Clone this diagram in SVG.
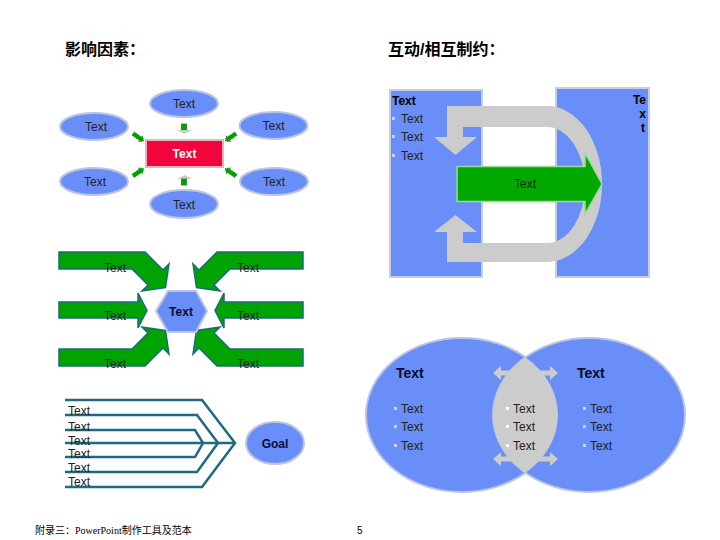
<svg xmlns="http://www.w3.org/2000/svg" width="720" height="540" viewBox="0 0 720 540">
<style>
.t{font-family:"Liberation Sans",Arial,sans-serif;font-size:12px;fill:#222}
.tb{font-family:"Liberation Sans",Arial,sans-serif;font-size:12px;font-weight:bold;fill:#000}
.h{font-family:"Liberation Sans","Noto Sans CJK SC",sans-serif;font-size:16px;font-weight:bold;fill:#000}
.ell{fill:#6A8EF7;stroke:#BAC4E4;stroke-width:2}
.blue{fill:#6A8EF7;stroke:#C4CCE8;stroke-width:2}
.ga{fill:#00A300;stroke:#1A6A7A;stroke-width:1.5}
.ln{fill:none;stroke:#1F6A80;stroke-width:2.5}
.gray{fill:#CCCCCC}
.sg{fill:#00A000;stroke:#138A13;stroke-width:0.8}
.bl{fill:#C8D0F2}
.bw{fill:#FFFFFF}
</style>

<!-- titles -->
<text class="h" x="65" y="55">影响因素：</text>
<text class="h" x="388" y="55">互动/相互制约：</text>

<!-- influence factors -->
<g id="factors">
  <g id="f-top"><ellipse class="ell" cx="184" cy="103.5" rx="34" ry="13.5"/><text class="t" x="184" y="108" text-anchor="middle">Text</text></g>
  <g id="f-left-top"><ellipse class="ell" cx="94" cy="126.5" rx="34" ry="13.5"/><text class="t" x="96" y="131" text-anchor="middle">Text</text></g>
  <g id="f-right-top"><ellipse class="ell" cx="273.5" cy="125.5" rx="34" ry="13.5"/><text class="t" x="273.5" y="130" text-anchor="middle">Text</text></g>
  <g id="f-left-bot"><ellipse class="ell" cx="94" cy="181.5" rx="34" ry="13.5"/><text class="t" x="95" y="186" text-anchor="middle">Text</text></g>
  <g id="f-right-bot"><ellipse class="ell" cx="274" cy="181.5" rx="34" ry="13.5"/><text class="t" x="274" y="186" text-anchor="middle">Text</text></g>
  <g id="f-bottom"><ellipse class="ell" cx="184" cy="204" rx="34" ry="14"/><text class="t" x="184" y="208.5" text-anchor="middle">Text</text></g>
  <g id="f-center"><rect x="146" y="140" width="77" height="27" fill="#F2043C" stroke="#E6B4BE" stroke-width="2"/><text class="tb" x="184.5" y="158" text-anchor="middle" style="fill:#fff">Text</text></g>
</g>
<g id="factor-arrows">
  <rect class="sg" x="181.5" y="124" width="5" height="6"/>
  <polygon class="gray" points="177,130 192,130 184.5,134"/>
  <polygon class="gray" points="177,179 192,179 184.5,175"/>
  <rect class="sg" x="181.5" y="179" width="5" height="6"/>
  <g transform="translate(138,137) rotate(35)"><polygon class="sg" points="-6,-2 3,-2 3,-3.5 7,0 3,3.5 3,2 -6,2" stroke-dasharray="1.5 1"/></g>
  <g transform="translate(231,137) rotate(145)"><polygon class="sg" points="-6,-2 3,-2 3,-3.5 7,0 3,3.5 3,2 -6,2" stroke-dasharray="1.5 1"/></g>
  <g transform="translate(138,172.5) rotate(-35)"><polygon class="sg" points="-6,-2 3,-2 3,-3.5 7,0 3,3.5 3,2 -6,2" stroke-dasharray="1.5 1"/></g>
  <g transform="translate(231,172.5) rotate(-145)"><polygon class="sg" points="-6,-2 3,-2 3,-3.5 7,0 3,3.5 3,2 -6,2" stroke-dasharray="1.5 1"/></g>
</g>

<!-- interaction -->
<g id="interact">
  <g id="i-left"><rect class="blue" x="390" y="90" width="92" height="187"/>
    <text class="tb" x="392" y="105">Text</text>
    <rect class="bl" x="392" y="117" width="3" height="3"/><text class="t" x="401" y="123">Text</text>
    <rect class="bl" x="392" y="135" width="3" height="3"/><text class="t" x="401" y="141">Text</text>
    <rect class="bl" x="392" y="154" width="3" height="3"/><text class="t" x="401" y="160">Text</text>
  </g>
  <g id="i-right"><rect class="blue" x="556" y="88" width="93" height="189"/>
    <text class="tb" x="646" y="104" text-anchor="end">Te</text>
    <text class="tb" x="646" y="118" text-anchor="end">x</text>
    <text class="tb" x="645" y="132" text-anchor="end">t</text>
  </g>
  <g id="i-cycle"><path class="gray" d="M447,106 H547 A55,78 0 0 1 547,262 H447 V232 H434 L455.5,215 L477,232 H463 V243 H547 A38,58 0 0 0 547,127 H463 V137 H477 L455.5,155 L434,137 H447 Z"/></g>
  <g id="i-arrow"><polygon points="457,166.5 585,166.5 585,153 602,184 585,214 585,201.5 457,201.5" fill="#00A800" stroke="#9ED89E" stroke-width="1.5"/>
    <text class="t" x="525" y="188" text-anchor="middle">Text</text></g>
</g>

<!-- converging arrows -->
<g id="converge">
  <g id="c-arrows">
    <polygon id="c-tl" class="ga" points="59,252 145,252 163,270 169,264 165.5,287.5 142,291 148,285 132,269 59,269"/>
    <polygon id="c-tr" class="ga" transform="matrix(-1,0,0,1,362,0)" points="59,252 145,252 163,270 169,264 165.5,287.5 142,291 148,285 132,269 59,269"/>
    <polygon id="c-bl" class="ga" transform="matrix(1,0,0,-1,0,618)" points="59,252 145,252 163,270 169,264 165.5,287.5 142,291 148,285 132,269 59,269"/>
    <polygon id="c-br" class="ga" transform="matrix(-1,0,0,-1,362,618)" points="59,252 145,252 163,270 169,264 165.5,287.5 142,291 148,285 132,269 59,269"/>
    <polygon id="c-ml" class="ga" points="59,302 138,302 138,293 147,310.5 138,328 138,318 59,318"/>
    <polygon id="c-mr" class="ga" transform="matrix(-1,0,0,1,362,0)" points="59,302 138,302 138,293 147,310.5 138,328 138,318 59,318"/>
  </g>
  <text class="t" x="115" y="272" text-anchor="middle">Text</text>
  <text class="t" x="248" y="272" text-anchor="middle">Text</text>
  <text class="t" x="115" y="320" text-anchor="middle">Text</text>
  <text class="t" x="248" y="320" text-anchor="middle">Text</text>
  <text class="t" x="115" y="368" text-anchor="middle">Text</text>
  <text class="t" x="248" y="368" text-anchor="middle">Text</text>
  <g id="c-center"><polygon points="156,311 168,291 196,291 207,311 196,332 168,332" fill="#6A8EF7" stroke="#BAC4E4" stroke-width="2"/>
    <text class="tb" x="181" y="316" text-anchor="middle" style="fill:#0A0A3A">Text</text></g>
</g>

<!-- goal -->
<g id="goal-lines">
  <path class="ln" d="M65,400 H202 L235,443 L202,487 H65"/>
  <path class="ln" d="M65,415 H197 L218,443 L197,472 H65"/>
  <path class="ln" d="M65,430 H195 L203,443 L195,457 H65"/>
  <path class="ln" d="M65,443 H235"/>
</g>
<g id="goal-labels">
  <text class="t" x="68" y="415">Text</text>
  <text class="t" x="68" y="431">Text</text>
  <text class="t" x="68" y="445">Text</text>
  <text class="t" x="68" y="458">Text</text>
  <text class="t" x="68" y="472">Text</text>
  <text class="t" x="68" y="486">Text</text>
</g>
<g id="goal"><ellipse class="ell" cx="275" cy="443" rx="29" ry="21"/><text class="tb" x="275" y="447.5" text-anchor="middle" style="fill:#0A0A3A">Goal</text></g>

<!-- venn -->
<g id="venn">
  <g id="v-left"><ellipse class="ell" cx="462" cy="415" rx="96" ry="77"/></g>
  <g id="v-right"><ellipse class="ell" cx="589" cy="415" rx="96" ry="77"/></g>
  <g id="v-lens"><path class="gray" d="M525.5,357.3 A96,77 0 0 1 525.5,472.7 A96,77 0 0 1 525.5,357.3 Z"/>
    <polygon class="gray" points="493,373 501,366 501,370.5 550,370.5 550,366 558,373 550,380 550,375.5 501,375.5 501,380"/>
    <polygon class="gray" points="493,459 501,452 501,456.5 550,456.5 550,452 558,459 550,466 550,461.5 501,461.5 501,466"/>
  </g>
  <text class="tb" x="396" y="378" style="font-size:14px;fill:#0A0A2A">Text</text>
  <text class="tb" x="577" y="378" style="font-size:14px;fill:#0A0A2A">Text</text>
  <rect class="bl" x="394" y="407" width="3" height="3"/><text class="t" x="401" y="413">Text</text>
  <rect class="bl" x="394" y="425" width="3" height="3"/><text class="t" x="401" y="431">Text</text>
  <rect class="bl" x="394" y="444" width="3" height="3"/><text class="t" x="401" y="450">Text</text>
  <rect class="bw" x="506" y="407" width="3" height="3"/><text class="t" x="513" y="413">Text</text>
  <rect class="bw" x="506" y="425" width="3" height="3"/><text class="t" x="513" y="431">Text</text>
  <rect class="bw" x="506" y="444" width="3" height="3"/><text class="t" x="513" y="450">Text</text>
  <rect class="bl" x="583" y="407" width="3" height="3"/><text class="t" x="590" y="413">Text</text>
  <rect class="bl" x="583" y="425" width="3" height="3"/><text class="t" x="590" y="431">Text</text>
  <rect class="bl" x="583" y="444" width="3" height="3"/><text class="t" x="590" y="450">Text</text>
</g>

<!-- footer -->
<text x="35" y="534" style="font-family:'Liberation Serif','Noto Sans CJK SC',serif;font-size:10px;fill:#000">附录三：PowerPoint制作工具及范本</text>
<text x="357" y="534" style="font-family:'Liberation Sans',sans-serif;font-size:10px;fill:#000">5</text>
</svg>
